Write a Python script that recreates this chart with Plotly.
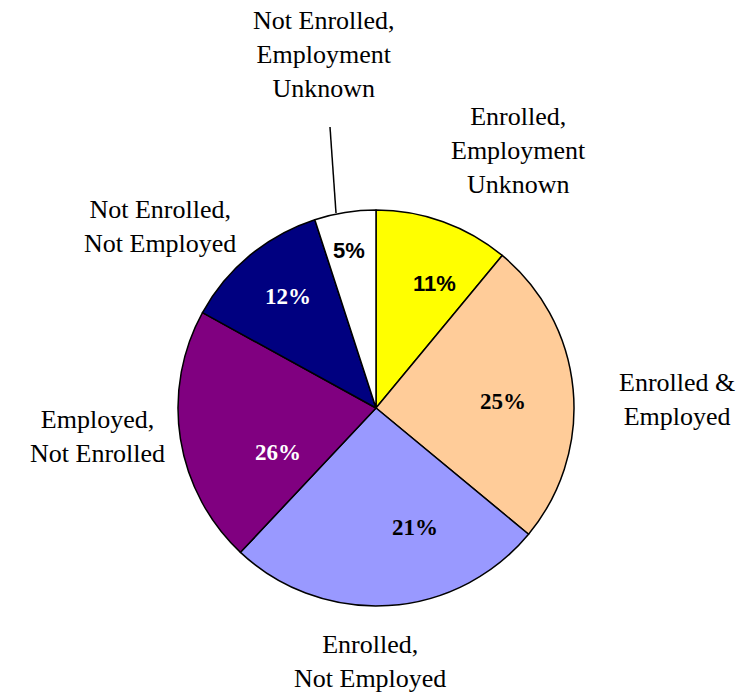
import plotly.graph_objects as go

W, H = 738, 693

# ---- data ----
categories = [
    "Enrolled,<br>Employment<br>Unknown",
    "Enrolled &<br>Employed",
    "Enrolled,<br>Not Employed",
    "Employed,<br>Not Enrolled",
    "Not Enrolled,<br>Not Employed",
    "Not Enrolled,<br>Employment<br>Unknown",
]
# slice sizes as drawn in the reference
values = [11, 25, 26, 21, 12, 5]
# percentage labels as printed in the reference
pct_labels = ["11%", "25%", "21%", "26%", "12%", "5%"]

# ---- styles ----
colors = ["#FFFF00", "#FFCC99", "#9999FF", "#800080", "#000080", "#FFFFFF"]
pct_colors = ["black", "black", "black", "white", "white", "black"]
SANS = "Liberation Sans, Arial, sans-serif"
SERIF = "Liberation Serif, Times New Roman, serif"
pct_fonts = [SANS, SERIF, SERIF, SERIF, SERIF, SANS]
pct_sizes = [22, 23, 23, 23, 23, 22]
# label positions in pixels (x, y)
pct_pos = [(434, 283), (503, 401), (415, 527), (278, 452), (288, 296), (349, 250)]
cat_pos = [(518, 150), (677, 400), (370, 661), (97, 436), (160, 226), (324, 54)]

cx, cy, r = 376, 408, 198

def px(x):
    return x / W

def py(y):
    return 1 - y / H

fig = go.Figure(go.Pie(
    labels=categories,
    values=values,
    sort=False,
    direction="clockwise",
    rotation=0,
    marker=dict(colors=colors, line=dict(color="black", width=1.5)),
    textinfo="none",
    hoverinfo="label",
    showlegend=False,
    domain=dict(x=[px(cx - r), px(cx + r)], y=[py(cy + r), py(cy - r)]),
))

annotations = []
for t, (x, y), c, f, s in zip(pct_labels, pct_pos, pct_colors, pct_fonts, pct_sizes):
    annotations.append(dict(
        x=px(x), y=py(y), xref="paper", yref="paper",
        text=f"<b>{t}</b>", showarrow=False,
        font=dict(family=f, size=s, color=c),
        xanchor="center", yanchor="middle",
    ))
for lab, (x, y) in zip(categories, cat_pos):
    annotations.append(dict(
        x=px(x), y=py(y), xref="paper", yref="paper",
        text=lab, showarrow=False,
        font=dict(family=SERIF, size=26, color="black"),
        xanchor="center", yanchor="middle",
    ))

fig.update_layout(
    width=W, height=H,
    margin=dict(l=0, r=0, t=0, b=0),
    paper_bgcolor="white",
    plot_bgcolor="white",
    annotations=annotations,
    shapes=[dict(type="line", xref="paper", yref="paper",
                 x0=px(330), y0=py(127), x1=px(336), y1=py(213),
                 line=dict(color="black", width=1.5))],
)

fig.write_html("out.html")
